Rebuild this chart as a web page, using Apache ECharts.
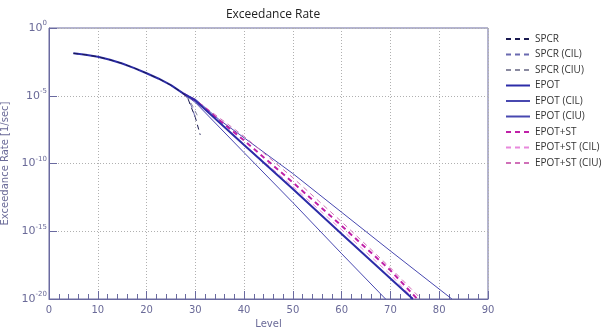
<!DOCTYPE html>
<html>
<head>
<meta charset="utf-8">
<script src="https://cdn.jsdelivr.net/npm/echarts@6/dist/echarts.min.js"></script>
<style>
  html, body { margin: 0; padding: 0; background: #fff; }
  #chart { width: 603px; height: 331px; }
</style>
</head>
<body>
<div id="chart"></div>
<script>
// level (x) and exceedance rate [1/sec], one pair of arrays per curve
const spcrLevel = [5, 7.5, 10, 12.5, 15, 17.5, 20, 22.5, 25, 27.5, 28.5, 29, 30, 31];
const spcrRate = [1.35e-2, 1.05e-2, 7.6e-3, 4.5e-3, 2.4e-3, 1.1e-3, 4.6e-4, 1.8e-4, 6e-5, 1.5e-5, 6e-6, 2e-6, 2.5e-7, 1.3e-8];
const spcrCilLevel = [25, 27.5, 28.5, 29.5, 30];
const spcrCilRate = [6e-5, 1.5e-5, 6e-6, 1e-6, 2e-7];
const spcrCiuLevel = [25, 27.5, 28.5, 29.5, 30.5];
const spcrCiuRate = [6e-5, 1.5e-5, 7e-6, 1.6e-6, 3e-7];

const epotLevel = [5, 7.5, 10, 12.5, 15, 17.5, 20, 22.5, 25, 27.5, 30, 40, 50, 60, 70, 74.6];
const epotRate = [1.35e-2, 1.05e-2, 7.6e-3, 4.5e-3, 2.4e-3, 1.1e-3, 4.6e-4, 1.8e-4, 6e-5, 1.5e-5, 4.5e-6, 2.3e-9, 1.3e-12, 6.3e-16, 3.2e-19, 1e-20];
const epotCilLevel = [25, 27.5, 30, 40, 50, 60, 69];
const epotCilRate = [6e-5, 1.5e-5, 3.2e-6, 6.3e-10, 1.3e-13, 2.2e-17, 1e-20];
const epotCiuLevel = [25, 27.5, 30, 35, 40, 50, 60, 70, 82.6];
const epotCiuRate = [6e-5, 1.5e-5, 5.6e-6, 1.6e-7, 7.9e-9, 1.8e-11, 2.5e-14, 3.5e-17, 1e-20];

const stLevel = [27.5, 30, 40, 50, 60, 70, 75.5];
const stRate = [1.5e-5, 4.5e-6, 5e-9, 4e-12, 2.5e-15, 1.3e-18, 1e-20];
const stCilLevel = [27.5, 30, 40, 50, 60, 70, 74.8];
const stCilRate = [1.5e-5, 4e-6, 2.5e-9, 2e-12, 1.3e-15, 6.3e-19, 1e-20];
const stCiuLevel = [27.5, 30, 40, 50, 60, 70, 76.3];
const stCiuRate = [1.5e-5, 5e-6, 1e-8, 8.9e-12, 5e-15, 2e-18, 1e-20];

const levelTicks = [0, 90, 10];
const rateMin = 1e-20;
const rateMax = 1;

const pairs = (xs, ys) => xs.map((x, i) => [x, ys[i]]);

const AXIS_COLOR = '#6a6aa0';
const LABEL_COLOR = '#6a6a98';
const DASH = [5, 4];

const line = (name, xs, ys, color, width, dashed) => ({
  name,
  type: 'line',
  data: pairs(xs, ys),
  symbol: 'none',
  color,
  lineStyle: { color, width, type: dashed ? DASH : 'solid' },
});

const chart = echarts.init(document.getElementById('chart'));

const option = {
  animation: false,
  textStyle: { fontFamily: 'DejaVu Sans, sans-serif' },
  title: {
    text: 'Exceedance Rate',
    left: 268,
    textAlign: 'center',
    top: 4,
    textStyle: { fontSize: 12, fontWeight: 'normal', color: '#222', fontFamily: 'Open Sans' },
  },
  legend: {
    orient: 'vertical',
    left: 500,
    top: 29,
    itemWidth: 24,
    itemHeight: 10,
    itemGap: 5.5,
    itemStyle: { opacity: 0 },
    textStyle: { fontSize: 10, color: '#333', fontFamily: 'Open Sans' },
    data: ['SPCR', 'SPCR (CIL)', 'SPCR (CIU)', 'EPOT', 'EPOT (CIL)', 'EPOT (CIU)',
      'EPOT+ST', 'EPOT+ST (CIL)', 'EPOT+ST (CIU)'],
  },
  // frame on all four sides
  grid: {
    left: 49, right: 115, top: 28, bottom: 32, outerBoundsMode: 'none',
    show: true, borderColor: AXIS_COLOR, borderWidth: 1,
  },
  xAxis: {
    type: 'value',
    min: levelTicks[0],
    max: levelTicks[1],
    interval: levelTicks[2],
    name: 'Level',
    nameLocation: 'middle',
    nameGap: 19,
    nameTextStyle: { fontSize: 10, color: LABEL_COLOR },
    axisLine: { show: true, lineStyle: { color: AXIS_COLOR } },
    axisTick: { show: true, inside: true, length: 8, lineStyle: { color: AXIS_COLOR } },
    minorTick: { show: true, splitNumber: 5, length: 5, lineStyle: { color: AXIS_COLOR } },
    axisLabel: { fontSize: 10, color: LABEL_COLOR, margin: 6 },
    splitLine: { show: true, lineStyle: { color: '#b0b0b0', type: [1, 2] } },
  },
  yAxis: {
    type: 'log',
    logBase: 10,
    min: rateMin,
    max: rateMax,
    interval: 5,
    name: 'Exceedance Rate [1/sec]',
    nameLocation: 'middle',
    nameGap: 34,
    nameTextStyle: { fontSize: 10, color: LABEL_COLOR },
    axisLine: { show: true, lineStyle: { color: AXIS_COLOR } },
    axisTick: { show: true, inside: true, length: 8, lineStyle: { color: AXIS_COLOR } },
    axisLabel: {
      color: LABEL_COLOR,
      margin: 2,
      formatter: (v) => '{b|10}{s|' + Math.round(Math.log10(v)) + '}',
      rich: {
        b: { fontSize: 11, color: LABEL_COLOR },
        s: { fontSize: 7, color: LABEL_COLOR, padding: [0, 0, 9, 0] },
      },
    },
    splitLine: { show: true, lineStyle: { color: '#b0b0b0', type: [1, 2] } },
  },
  series: [
    line('SPCR (CIL)', spcrCilLevel, spcrCilRate, '#6a6ab0', 1, true),
    line('SPCR (CIU)', spcrCiuLevel, spcrCiuRate, '#8a8aa0', 1, true),
    line('EPOT (CIL)', epotCilLevel, epotCilRate, '#4848b0', 1, false),
    line('EPOT (CIU)', epotCiuLevel, epotCiuRate, '#4848b0', 1, false),
    line('EPOT+ST (CIL)', stCilLevel, stCilRate, '#e888dc', 1, true),
    line('EPOT+ST (CIU)', stCiuLevel, stCiuRate, '#d070b8', 1, true),
    line('EPOT+ST', stLevel, stRate, '#c020a8', 2, true),
    line('EPOT', epotLevel, epotRate, '#2c2ca8', 2, false),
    line('SPCR', spcrLevel, spcrRate, '#1a1a50', 1, true),
  ],
};

chart.setOption(option);
</script>
</body>
</html>
